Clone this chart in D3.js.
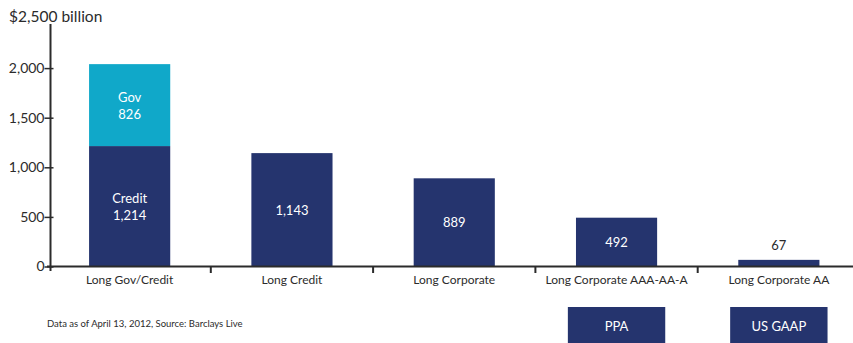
<!DOCTYPE html>
<html>
<head>
<meta charset="utf-8">
<script src="https://cdn.jsdelivr.net/npm/d3@7"></script>
<style>
  body { margin: 0; background: #fff; }
  text { font-family: Lato, "Open Sans", sans-serif; }
</style>
</head>
<body>
<script>
// data
var categories = ["Long Gov/Credit", "Long Credit", "Long Corporate", "Long Corporate AAA-AA-A", "Long Corporate AA"];
var creditValues = [1214, 1143, 889, 492, 67];
var govValues = [826, 0, 0, 0, 0];
var yTicks = [0, 500, 1000, 1500, 2000, 2500];
var boxLabels = [null, null, null, "PPA", "US GAAP"];

var width = 853, height = 343;
var navy = "#25346e", teal = "#10a8c9", ink = "#2b2b2b";

var svg = d3.select("body").append("svg")
    .attr("width", width)
    .attr("height", height);

var x = d3.scaleBand().domain(categories).range([48.5, 860]).paddingInner(0.5).paddingOuter(0.25);
var xb = d3.scaleBand().domain(categories).range([48.5, 860]);
var y = d3.scaleLinear().domain([0, 2500]).range([266.5, 18.5]);

var rows = categories.map(function(c, i) {
    return {cat: c, credit: creditValues[i], gov: govValues[i]};
});

// bars - credit part
svg.append("g").selectAll("rect")
    .data(rows)
    .enter().append("rect")
    .attr("x", d => x(d.cat))
    .attr("width", x.bandwidth())
    .attr("y", d => y(d.credit))
    .attr("height", d => y(0) - y(d.credit))
    .attr("fill", navy);

// gov part stacked on top
svg.append("g").selectAll("rect")
    .data(rows.filter(d => d.gov > 0))
    .enter().append("rect")
    .attr("x", d => x(d.cat))
    .attr("width", x.bandwidth())
    .attr("y", d => y(d.credit + d.gov))
    .attr("height", d => y(d.credit) - y(d.credit + d.gov))
    .attr("fill", teal);

var fmt = d3.format(",");

// value labels
rows.forEach(function(d) {
    var cx = x(d.cat) + x.bandwidth() / 2;
    if (d.gov > 0) {
        var gmid = (y(d.credit) + y(d.credit + d.gov)) / 2;
        svg.append("text").attr("x", cx).attr("y", gmid - 3).attr("text-anchor", "middle")
            .attr("fill", "#fff").style("font-size", "13px").text("Gov");
        svg.append("text").attr("x", cx).attr("y", gmid + 14).attr("text-anchor", "middle")
            .attr("fill", "#fff").style("font-size", "13px").text(fmt(d.gov));
        var cmid = (y(0) + y(d.credit)) / 2;
        svg.append("text").attr("x", cx).attr("y", cmid - 3).attr("text-anchor", "middle")
            .attr("fill", "#fff").style("font-size", "13px").text("Credit");
        svg.append("text").attr("x", cx).attr("y", cmid + 14).attr("text-anchor", "middle")
            .attr("fill", "#fff").style("font-size", "13px").text(fmt(d.credit));
    } else if (d.credit > 200) {
        svg.append("text").attr("x", cx).attr("y", (y(0) + y(d.credit)) / 2 + 5)
            .attr("text-anchor", "middle").attr("fill", "#fff").style("font-size", "13px")
            .text(fmt(d.credit));
    } else {
        svg.append("text").attr("x", cx).attr("y", y(d.credit) - 10)
            .attr("text-anchor", "middle").attr("fill", ink).style("font-size", "13px")
            .text(fmt(d.credit));
    }
});

// y axis
var yAxis = svg.append("g")
    .attr("transform", "translate(50.5,0)")
    .call(d3.axisLeft(y).tickValues(yTicks).tickSize(6).tickFormat(d => d == 2500 ? "" : fmt(d)));
yAxis.select(".domain").attr("stroke", ink).attr("stroke-width", 2).attr("d", "M0,24V271");
yAxis.selectAll(".tick line").attr("stroke", ink).attr("stroke-width", 1.5).attr("x1", 3);
yAxis.selectAll(".tick").filter(d => d == 2500).remove();
yAxis.selectAll(".tick text").style("font-size", "14px").attr("fill", ink).attr("x", -6)
    .style("font-family", "Lato, sans-serif");

svg.append("text")
    .attr("x", 9).attr("y", 22)
    .attr("fill", ink).style("font-size", "15.5px")
    .text("$2,500 billion");

// x axis
var xAxis = svg.append("g")
    .attr("transform", "translate(0," + 266.5 + ")")
    .call(d3.axisBottom(xb).tickSize(0).tickPadding(8.5));
xAxis.select(".domain").attr("stroke", ink).attr("stroke-width", 2).attr("d", "M47,0H853");
xAxis.selectAll(".tick text").style("font-size", "12px").attr("fill", ink)
    .style("font-family", "Lato, sans-serif");

// category separators
svg.append("g").selectAll("line")
    .data(categories.slice(1))
    .enter().append("line")
    .attr("x1", d => xb(d)).attr("x2", d => xb(d))
    .attr("y1", 266.5).attr("y2", 273)
    .attr("stroke", ink).attr("stroke-width", 2);

// boxes under last two categories
var bw = xb.bandwidth() * 0.6;
var boxes = categories.map((c, i) => ({cat: c, label: boxLabels[i]})).filter(d => d.label);
svg.append("g").selectAll("rect")
    .data(boxes)
    .enter().append("rect")
    .attr("x", d => xb(d.cat) + (xb.bandwidth() - bw) / 2)
    .attr("width", bw)
    .attr("y", 307).attr("height", 40)
    .attr("fill", navy);
svg.append("g").selectAll("text")
    .data(boxes)
    .enter().append("text")
    .attr("x", d => xb(d.cat) + xb.bandwidth() / 2)
    .attr("y", 331)
    .attr("text-anchor", "middle")
    .attr("fill", "#fff").style("font-size", "13px")
    .text(d => d.label);

// footnote
svg.append("text")
    .attr("x", 47).attr("y", 327)
    .attr("fill", ink).style("font-size", "9.5px")
    .text("Data as of April 13, 2012, Source: Barclays Live");
</script>
</body>
</html>
